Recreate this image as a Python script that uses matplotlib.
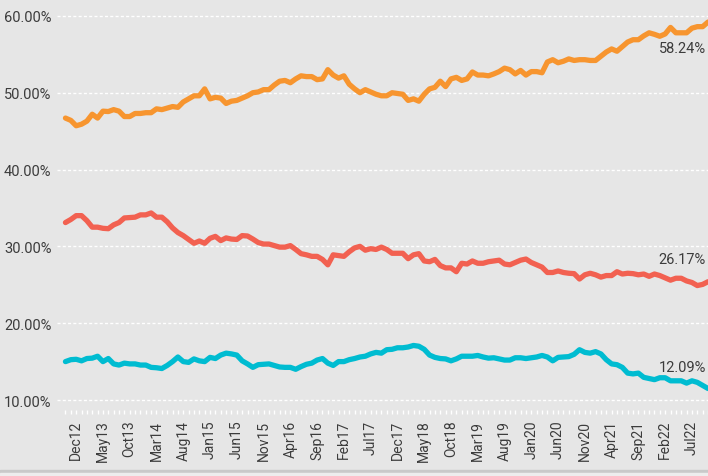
import matplotlib
matplotlib.use("Agg")
import matplotlib.pyplot as plt
import numpy as np
import pandas as pd

# monthly shares, Oct 2012 onwards
orange_share = [
    46.7, 46.4, 45.7, 45.9, 46.3, 47.2, 46.7, 47.6, 47.55, 47.8,
    47.6, 46.9, 46.9, 47.3, 47.3, 47.4, 47.4, 47.9, 47.8, 48.0,
    48.2, 48.1, 48.8, 49.2, 49.6, 49.6, 50.5, 49.2, 49.4, 49.3,
    48.6, 48.9, 49.0, 49.3, 49.6, 50.0, 50.1, 50.4, 50.4, 51.0,
    51.5, 51.6, 51.3, 51.8, 52.2, 52.1, 52.1, 51.7, 51.8, 53.0,
    52.3, 51.9, 52.2, 51.1, 50.5, 50.0, 50.4, 50.1, 49.8, 49.6,
    49.6, 50.0, 49.9, 49.8, 49.0, 49.2, 48.9, 49.8, 50.5, 50.7,
    51.5, 50.8, 51.8, 52.0, 51.6, 51.8, 52.7, 52.3, 52.3, 52.2,
    52.45, 52.75, 53.2, 53.0, 52.45, 52.9, 52.3, 52.75, 52.75, 52.6,
    54.0, 54.3, 53.9, 54.1, 54.4, 54.2, 54.3, 54.3, 54.2, 54.2,
    54.75, 55.3, 55.7, 55.4, 56.0, 56.6, 56.9, 56.9, 57.4, 57.8,
    57.6, 57.35, 57.65, 58.5, 57.8, 57.8, 57.8, 58.4, 58.6, 58.6,
    59.2,
]
red_share = [
    33.1, 33.5, 34.0, 34.0, 33.35, 32.5, 32.5, 32.35, 32.3, 32.8,
    33.1, 33.7, 33.75, 33.8, 34.1, 34.1, 34.35, 33.8, 33.8, 33.2,
    32.4, 31.8, 31.4, 30.9, 30.4, 30.7, 30.4, 31.05, 31.3, 30.75,
    31.1, 30.95, 30.9, 31.4, 31.35, 30.95, 30.5, 30.3, 30.3, 30.1,
    29.9, 29.9, 30.1, 29.6, 29.05, 28.9, 28.7, 28.7, 28.3, 27.6,
    28.9, 28.8, 28.7, 29.3, 29.8, 30.0, 29.5, 29.7, 29.6, 29.9,
    29.6, 29.1, 29.1, 29.1, 28.4, 28.9, 29.05, 28.1, 28.0, 28.3,
    27.5, 27.2, 27.2, 26.7, 27.8, 27.7, 28.1, 27.8, 27.8, 28.0,
    28.1, 28.2, 27.7, 27.6, 27.9, 28.2, 28.35, 27.9, 27.6, 27.3,
    26.6, 26.6, 26.8, 26.6, 26.5, 26.45, 25.75, 26.3, 26.5, 26.3,
    26.0, 26.2, 26.2, 26.7, 26.4, 26.5, 26.45, 26.3, 26.4, 26.1,
    26.4, 26.2, 25.9, 25.6, 25.85, 25.85, 25.5, 25.3, 24.9, 25.05,
    25.4,
]
cyan_share = [
    15.0, 15.25, 15.3, 15.1, 15.4, 15.45, 15.7, 15.0, 15.4, 14.7,
    14.55, 14.8, 14.7, 14.7, 14.55, 14.55, 14.25, 14.2, 14.1, 14.5,
    15.0, 15.6, 15.0, 14.9, 15.35, 15.1, 15.0, 15.55, 15.4, 15.85,
    16.1, 16.0, 15.85, 15.1, 14.7, 14.25, 14.6, 14.65, 14.7, 14.5,
    14.3, 14.25, 14.25, 14.0, 14.35, 14.65, 14.8, 15.2, 15.4, 14.8,
    14.5, 15.0, 15.0, 15.25, 15.4, 15.6, 15.7, 16.0, 16.2, 16.1,
    16.55, 16.6, 16.8, 16.8, 16.9, 17.1, 17.0, 16.6, 15.85, 15.55,
    15.4, 15.35, 15.1, 15.35, 15.7, 15.7, 15.7, 15.8, 15.6, 15.45,
    15.5, 15.35, 15.2, 15.2, 15.5, 15.5, 15.4, 15.5, 15.6, 15.8,
    15.6, 15.1, 15.55, 15.6, 15.65, 15.95, 16.55, 16.2, 16.1, 16.3,
    16.0, 15.25, 14.7, 14.6, 14.25, 13.5, 13.4, 13.5, 12.95, 12.8,
    12.65, 12.9, 12.9, 12.5, 12.5, 12.5, 12.2, 12.5, 12.3, 11.9,
    11.5,
]
end_labels = ["58.24%", "26.17%", "12.09%"]
y_ticks = [10, 20, 30, 40, 50, 60]

months = pd.date_range("2012-10-01", periods=len(orange_share), freq="MS")
x = np.arange(len(months))

bg = "#e6e6e6"
txt = "#3c3c3c"
plt.rcParams["font.family"] = ["Roboto", "DejaVu Sans"]

fig = plt.figure(figsize=(7.08, 4.77), dpi=100, facecolor=bg)
ax = fig.add_axes([57 / 708, 64 / 477, 1 - 57 / 708, 413 / 477])
ax.set_facecolor(bg)

series = [(orange_share, "#f7952f"), (red_share, "#f26151"), (cyan_share, "#00bcd1")]
label_y = [55.8, 28.4, 14.3]
for (vals, col), lab, ly in zip(series, end_labels, label_y):
    ax.plot(x, vals, color=col, lw=3.8, solid_capstyle="round", solid_joinstyle="round", zorder=3)
    # end-of-line value, kept just inside the right edge
    ax.text(0.997, ly, lab, ha="right", va="center", fontsize=10.5, color=txt,
            transform=ax.get_yaxis_transform())

ax.set_xlim(-1.58, 119.4)
ax.set_ylim(8.44, 62.2)

ax.set_yticks(y_ticks)
ax.set_yticklabels([f"{v:.2f}%" for v in y_ticks])
ax.yaxis.grid(True, color="white", lw=1, linestyle=(0, (2.2, 1.6)))
ax.set_axisbelow(True)
ax.tick_params(axis="y", length=0, pad=4, labelsize=10.5, labelcolor=txt)

major = x[2::5]
ax.set_xticks(major)
ax.set_xticklabels([f"{months[i]:%b%y}" for i in major], rotation=90)
ax.set_xticks(x, minor=True)
ax.tick_params(axis="x", which="both", direction="inout", length=3, width=1,
               color="white", pad=4, labelsize=10, labelcolor=txt)

for s in ax.spines.values():
    s.set_visible(False)

# grey strip along the bottom edge
fig.patches.append(plt.Rectangle((0, 3 / 477), 1, 3 / 477, transform=fig.transFigure,
                                 color="#c9c9c9", zorder=0))
fig.patches.append(plt.Rectangle((0, 0), 1, 3 / 477, transform=fig.transFigure,
                                 color="#ededed", zorder=0))

fig.savefig("out.png", dpi=100, facecolor=bg)
